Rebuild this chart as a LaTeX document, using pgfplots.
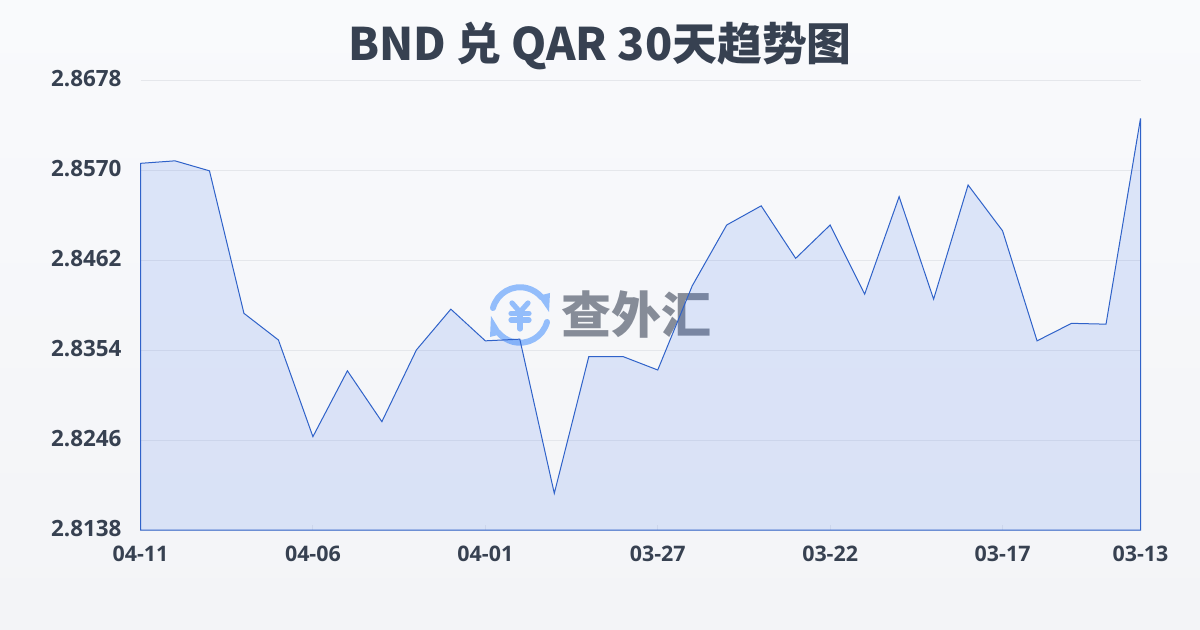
\documentclass[border=0pt]{standalone}
\usepackage{fontspec}
\usepackage{pgfplots}
\pgfplotsset{compat=1.18}
\usetikzlibrary{arrows.meta}
\setmainfont{Open Sans}
\newfontfamily\cjk{Noto Sans CJK SC}
\definecolor{ink}{HTML}{374151}
\definecolor{linec}{HTML}{2F62C9}
\definecolor{gridc}{HTML}{E5E7EB}
\definecolor{icon}{HTML}{93BDFB}
\definecolor{bgtop}{HTML}{F9FAFC}
\definecolor{bgbot}{HTML}{F3F4F7}
\definecolor{wm}{HTML}{6B7280}
\definecolor{areac}{HTML}{2563EB}
\pgfplotstableread{
i v
0 2.8578
1 2.8581
2 2.8569
3 2.8398
4 2.8366
5 2.8250
6 2.8329
7 2.8268
8 2.8354
9 2.8403
10 2.8365
11 2.8367
12 2.8182
13 2.8346
14 2.8346
15 2.8330
16 2.8431
17 2.8504
18 2.8527
19 2.8464
20 2.8504
21 2.8421
22 2.8538
23 2.8415
24 2.8552
25 2.8497
26 2.8365
27 2.8386
28 2.8385
29 2.8632
}\rates
\begin{document}
\begin{tikzpicture}[x=0.5pt,y=-0.5pt]
\path[use as bounding box] (0,0) rectangle (1200,630);
\shade[top color=bgtop, bottom color=bgbot] (0,0) rectangle (1200,630);
\node[font=\cjk\bfseries\fontsize{22.4pt}{26pt}\selectfont, text=ink, anchor=center] at (600,46) {BND 兑 QAR 30天趋势图};
\begin{scope}[line cap=round]
  \draw[icon, line width=3pt] (493,308) arc[start angle=-165, end angle=-40, radius=28];
  \fill[icon] (538,296) -- (550,293) -- (549,312) -- cycle;
  \draw[icon, line width=3pt] (547,322) arc[start angle=15, end angle=140, radius=28];
  \fill[icon] (502,334) -- (490,337) -- (491,316) -- cycle;
  \draw[icon, line width=2.6pt] (512,303) -- (520,312) -- (528,303);
  \draw[icon, line width=2.6pt] (511,313.5) -- (529,313.5) (511,320) -- (529,320) (520,312) -- (520,329);
\end{scope}
\node[font=\cjk\bfseries\fontsize{25pt}{27pt}\selectfont, text=wm, opacity=0.8, anchor=center] at (636,315) {查外汇};
\begin{axis}[
  at={(70.25pt,-265pt)}, anchor=south west,
  scale only axis, width=500pt, height=225pt,
  xmin=0, xmax=29, ymin=2.8138, ymax=2.8678,
  axis line style={draw=none},
  xtick={0,5,10,15,20,25,29},
  xticklabels={04-11,04-06,04-01,03-27,03-22,03-17,03-13},
  ytick={2.8138,2.8246,2.8354,2.8462,2.8570,2.8678},
  yticklabels={2.8138,2.8246,2.8354,2.8462,2.8570,2.8678},
  ymajorgrids, grid style={gridc, line width=0.5pt},
  tick pos=left,
  major tick length=2.5pt,
  x tick style={gridc, line width=0.5pt},
  y tick style={draw=none},
  x tick label style={font=\bfseries\fontsize{10.7pt}{12pt}\selectfont, text=ink, yshift=-4.5pt},
  y tick label style={font=\bfseries\fontsize{11.2pt}{13pt}\selectfont, text=ink, xshift=-6pt, yshift=0.5pt},
  clip=false,
]
\addplot[draw=linec, line width=0.5pt, fill=areac, fill opacity=0.13, area legend] table[x=i,y=v] {\rates} \closedcycle;
\end{axis}
\end{tikzpicture}
\end{document}
